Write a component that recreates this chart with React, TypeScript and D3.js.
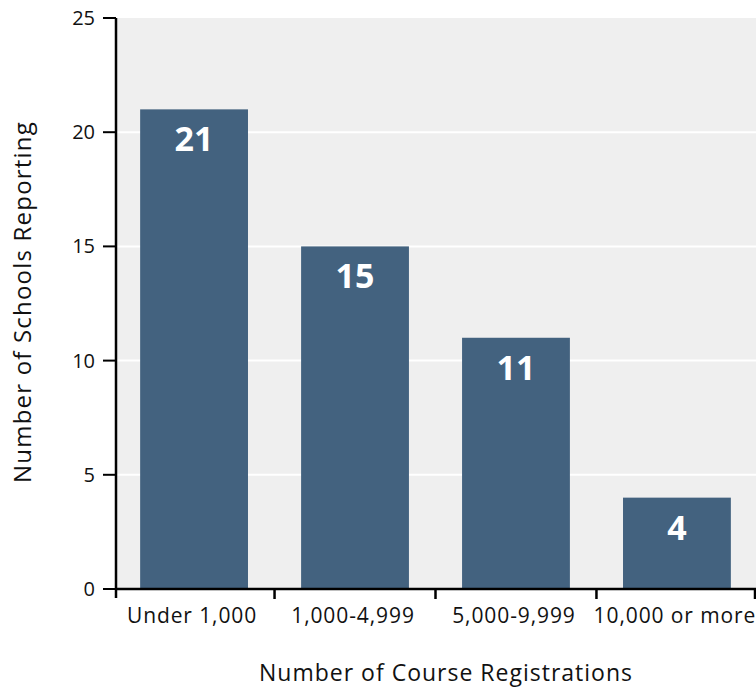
import React from 'react';
import * as d3 from 'd3';

const categories = ['Under 1,000', '1,000-4,999', '5,000-9,999', '10,000 or more'];
const schools = [21, 15, 11, 4];
const yTicks = [0, 5, 10, 15, 20, 25];

const width = 756;
const height = 687;
const margin = { top: 18, right: 1, bottom: 98, left: 116 };
const font = '"Open Sans", "Noto Sans", sans-serif';

export default function App() {
  const x = d3.scaleBand<string>()
    .domain(categories)
    .range([margin.left, width - margin.right])
    .paddingInner(0.33)
    .paddingOuter(0.15);
  const y = d3.scaleLinear().domain([0, 25]).range([height - margin.bottom, margin.top]);
  const step = x.step();
  const bandStart = (c: string) => x(c)! - (step - x.bandwidth()) / 2;
  const x0 = margin.left;
  const y0 = y(0);

  return (
    <svg width={width} height={height} style={{ position: 'absolute', left: 0, top: 0 }}>
      <rect x={x0} y={y(25)} width={width - x0} height={y0 - y(25)} fill="#efefef" />
      {yTicks.filter(t => t > 0 && t < 25).map(t => (
        <line key={t} x1={x0} x2={width} y1={y(t)} y2={y(t)} stroke="#fff" strokeWidth={2} />
      ))}
      {categories.map((c, i) => (
        <g key={c}>
          <rect x={x(c)} y={y(schools[i])} width={x.bandwidth()} height={y0 - y(schools[i])} fill="#43627f" />
          <text x={x(c)! + x.bandwidth() / 2} y={y(schools[i]) + 42} textAnchor="middle"
            fill="#fff" fontFamily={font} fontWeight="bold" fontSize={34}>{schools[i]}</text>
        </g>
      ))}
      {/* y axis */}
      <line x1={x0} x2={x0} y1={y(25)} y2={y0 + 9} stroke="#000" strokeWidth={2.5} />
      {yTicks.map(t => (
        <g key={t}>
          <line x1={x0 - 13} x2={x0} y1={y(t)} y2={y(t)} stroke="#000" strokeWidth={2} />
          <text x={95} y={y(t) + 7} textAnchor="end" fontFamily={font} fontSize={20} fill="#111">{t}</text>
        </g>
      ))}
      {/* x axis */}
      <line x1={x0} x2={width} y1={y0} y2={y0} stroke="#000" strokeWidth={2.5} />
      {categories.map((c, i) => {
        const s = bandStart(c);
        return (
          <g key={c}>
            {i > 0 && <line x1={s} x2={s} y1={y0} y2={y0 + 10} stroke="#000" strokeWidth={2.5} />}
            <text x={s + step / 2 - 2} y={y0 + 34} textAnchor="middle" fontFamily={font} fontSize={21}
              letterSpacing={0.9} fill="#111">{c}</text>
          </g>
        );
      })}
      <line x1={width - 1} x2={width - 1} y1={y0} y2={y0 + 10} stroke="#000" strokeWidth={2.5} />
      <text x={446} y={681} textAnchor="middle" fontFamily={font} fontSize={23} letterSpacing={1}
        fill="#111">Number of Course Registrations</text>
      <text transform={`translate(31,${302}) rotate(-90)`} textAnchor="middle" fontFamily={font} fontSize={24}
        letterSpacing={1.2} fill="#111">Number of Schools Reporting</text>
    </svg>
  );
}
